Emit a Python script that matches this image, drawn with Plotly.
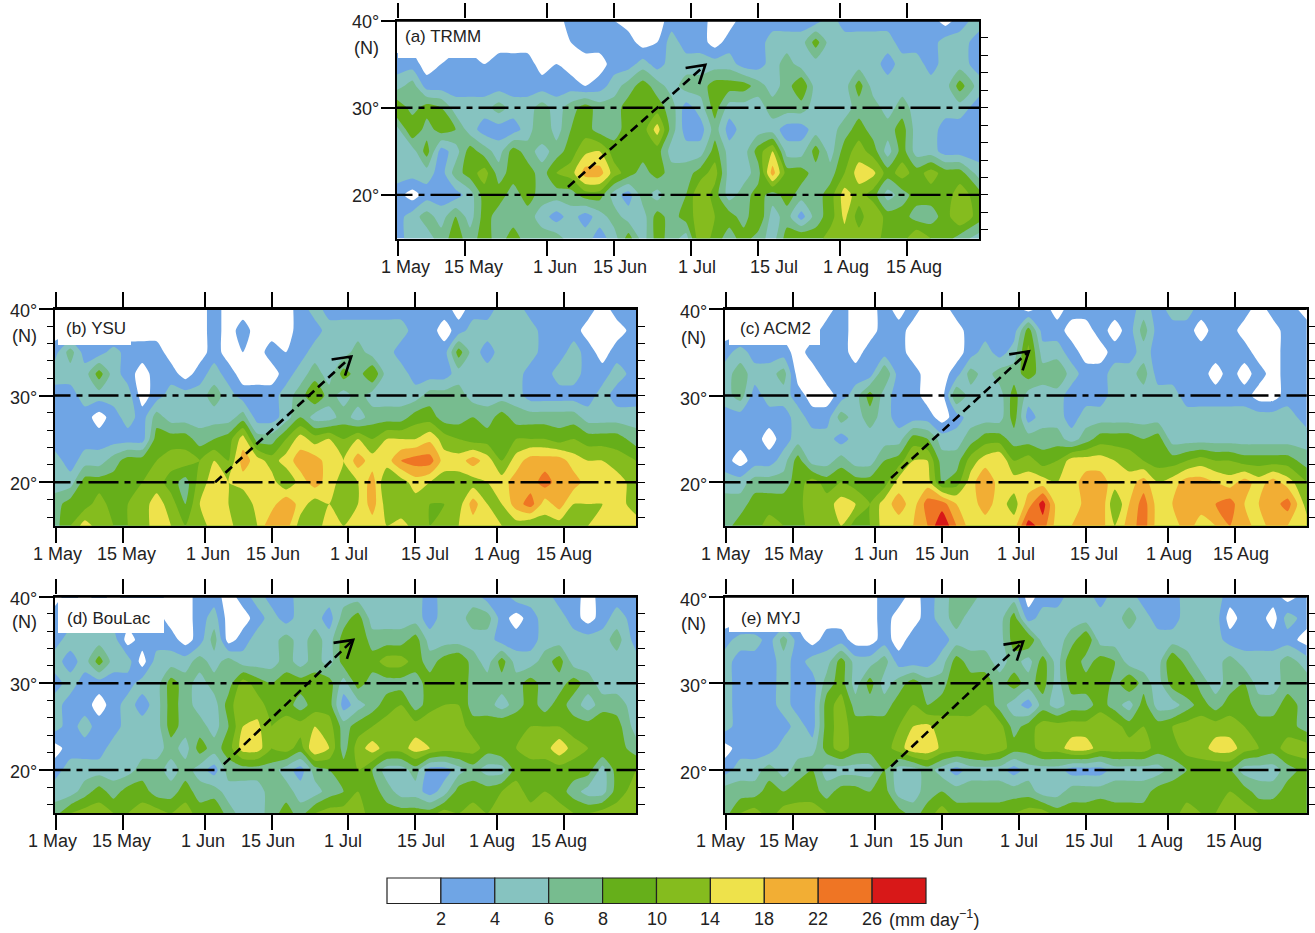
import numpy as np
import plotly.graph_objects as go

W, H = 1315, 933
# Column days (May 1 = 0) and latitudes (north to south) of the rainfall grids below
DAYS = [-0.4] + list(range(3, 120, 3)) + [121]
LATS = [40, 37.5, 35, 32.5, 30, 27.5, 25, 22.5, 20, 17.5, 15]
TICK_DAYS = [0, 14, 31, 45, 61, 75, 92, 106]
TICK_TEXT = ["1 May", "15 May", "1 Jun", "15 Jun", "1 Jul", "15 Jul", "1 Aug", "15 Aug"]
LEVELS = [2, 4, 6, 8, 10, 14, 18, 22, 26]
COLORS = ["#FFFFFF", "#6FA5E5", "#86C3C0", "#77BC8F", "#66AF1A", "#85BC1E",
          "#EEE24B", "#F2AE34", "#EF7524", "#D81818"]

TRMM = [
 [1,1,1,1,1, 1,1,1,1,1, 1,1,3,3,3, 2,1,1,1,3, 3,3,1,1,3, 2,3,3,3,3, 5,3,3,3,3, 2,3,3,1,3, 5],
 [1,1,1,1,1, 1,1,1,1,1, 1,1,2,3,3, 3,3,1,2,5, 3,3,1,3,3, 3,5,5,5,9, 5,5,5,5,5, 3,3,3,5,5, 3],
 [3,3,1,2,3, 3,2,3,3,3, 1,2,1,1,1, 3,3,5,3,5, 5,5,5,5,3, 3,5,7,5,5, 5,5,5,5,3, 5,5,3,5,5, 3],
 [5,7,3,3,3, 3,3,3,3,3, 3,3,3,2,3, 5,7,9,7,5, 7,7,9,9,9, 7,5,7,10,5, 5,5,9,5,5, 5,5,5,5,9, 5],
 [10,7,9,8,5, 5,5,7,5,5, 7,5,7,9,7, 7,9,9,9,7, 3,5,9,5,5, 5,7,7,7,5, 5,5,7,7,5, 7,5,5,5,5, 3],
 [5,10,7,9,8, 5,3,3,3,5, 8,5,8,9,7, 7,9,9,16,7, 3,3,7,3,5, 5,5,3,3,5, 5,7,9,7,7, 9,5,5,3,3, 3],
 [5,5,9,3,5, 9,7,5,9,7, 5,7,9,13,14, 9,8,9,9,5, 5,5,9,5,5, 9,14,5,5,9, 5,9,12,9,5, 9,5,5,3,3, 3],
 [5,5,5,3,7, 9,12,7,9,9, 7,10,12,20,20, 12,9,7,9,7, 7,9,12,5,5, 7,20,9,9,7, 7,10,16,15,9, 12,9,12,9,9, 5],
 [3,1,3,3,3, 5,9,9,7,9, 7,7,7,9,9, 5,3,7,5,8, 8,14,9,5,7, 9,7,9,7,7, 9,16,12,9,5, 7,9,9,9,12, 9],
 [3,5,7,5,8, 5,9,7,7,7, 5,3,5,3,5, 7,5,5,9,7, 9,12,10,9,7, 10,5,7,3,7, 9,15,9,14,9, 9,7,7,9,14, 9],
 [3,5,5,7,9, 7,9,7,9,7, 7,7,5,5,3, 5,9,5,9,7, 5,14,9,7,9, 7,5,9,10,9, 12,12,12,12,9, 9,14,10,9,7, 5],
]
YSU = [
 [1,1,1,1,1, 1,1,1,1,1, 1,3,1,1,1, 1,1,3,5,3, 3,3,3,3,3, 3,3,3,1,3, 3,5,5,3,3, 3,3,3,1,3, 3],
 [1,1,1,1,1, 1,1,1,1,1, 1,3,1,3,1, 1,1,3,3,5, 5,5,5,5,5, 3,3,1,3,5, 5,5,5,5,3, 3,3,1,1,1, 3],
 [3,7,3,3,5, 3,3,3,1,1, 1,3,1,2,1, 3,2,3,5,5, 5,7,5,5,3, 2,3,3,9,5, 3,5,5,5,3, 3,5,3,1,3, 3],
 [5,5,5,9,5, 3,1,3,3,1, 3,5,3,1,1, 1,3,5,7,5, 9,7,10,5,5, 3,3,3,5,5, 5,5,5,3,3, 5,5,3,3,5, 3],
 [3,3,5,5,5, 5,1,3,5,5, 5,7,5,3,3, 3,5,7,10,7, 5,7,5,5,5, 5,7,7,7,5, 5,5,5,3,3, 3,3,3,5,3, 3],
 [3,3,3,1,3, 5,3,7,5,5, 5,5,5,7,3, 3,5,8,5,5, 7,5,7,7,7, 9,9,7,7,8, 7,9,7,7,7, 7,7,5,5,5, 5],
 [3,3,3,3,3, 3,3,9,9,9, 7,8,9,16,7, 7,10,16,12,14, 10,14,10,14,14, 14,17,12,10,9, 9,9,10,10,10, 9,10,9,9,9, 7],
 [5,3,5,5,7, 9,9,10,12,12, 10,14,10,20,16, 12,16,20,20,16, 14,20,16,16,22, 24,24,16,16,20, 16,10,16,20,20, 20,16,14,14,12, 10],
 [5,5,9,9,9, 10,10,12,9,7, 12,16,14,16,14, 16,10,16,20,16, 12,14,20,10,12, 16,14,12,12,12, 14,16,20,20,24, 20,20,16,16,16, 12],
 [7,9,9,12,9, 10,12,16,12,8, 14,18,14,10,16, 16,22,16,12,14, 14,14,20,12,10, 12,10,10,12,20, 14,14,20,24,16, 20,14,14,14,16, 12],
 [7,10,16,12,10, 10,12,16,14,10, 12,16,16,10,14, 22,20,12,12,16, 14,16,16,14,16, 12,10,12,14,16, 16,14,12,10,12, 12,12,14,16,16, 16],
]
ACM2 = [
 [1,1,1,1,1, 1,1,1,3,1, 1,3,1,3,1, 1,3,3,3,3, 3,1,3,1,3, 3,3,3,3,5, 3,5,5,3,3, 3,3,1,3,3, 1],
 [1,1,1,1,1, 1,1,3,3,1, 1,3,3,1,1, 1,1,3,3,3, 3,9,3,3,1, 1,3,1,3,7, 3,3,3,1,3, 3,1,1,1,3, 3],
 [3,5,3,3,3, 1,3,3,3,1, 3,3,3,1,1, 1,1,3,5,3, 5,11,5,5,3, 1,1,3,3,5, 3,3,3,3,3, 3,3,1,1,3, 3],
 [5,7,5,5,7, 1,1,3,3,3, 3,8,3,3,1, 1,3,7,5,7, 7,9,7,8,5, 3,3,5,5,7, 3,3,3,3,1, 3,1,3,1,3, 3],
 [5,7,3,5,5, 3,1,1,3,5, 9,5,3,3,1, 1,8,5,5,5, 9,5,5,5,3, 3,3,5,5,5, 5,5,3,3,3, 3,3,1,1,3, 3],
 [3,3,3,3,3, 5,3,3,7,5, 7,5,3,3,3, 1,3,5,5,5, 9,3,5,5,3, 5,5,5,5,5, 5,5,5,5,5, 5,5,5,5,5, 3],
 [3,3,3,1,3, 5,5,5,3,5, 5,5,5,9,8, 5,5,7,9,9, 7,7,7,7,5, 7,9,9,9,8, 9,5,5,5,5, 5,5,5,5,5, 5],
 [3,1,3,3,5, 9,5,5,7,5, 5,8,9,14,14, 7,7,12,16,18, 10,12,9,10,16, 16,16,14,12,10, 9,9,10,12,10, 10,9,9,9,9, 7],
 [5,5,7,7,7, 9,12,9,10,9, 9,9,16,16,16, 8,9,16,22,16, 16,16,16,14,16, 20,20,16,16,20, 14,16,20,20,18, 16,20,16,20,16, 10],
 [7,7,9,9,9, 9,14,12,16,14, 10,16,20,16,24, 24,18,16,20,16, 12,20,28,16,14, 20,22,10,18,24, 16,18,20,20,22, 24,18,18,20,24, 12],
 [7,9,9,12,10, 9,12,10,14,9, 10,16,16,18,22, 30,22,16,16,16, 16,28,24,16,18, 20,20,14,20,24, 16,16,20,16,18, 22,20,16,20,18, 16],
]
BOULAC = [
 [1,3,1,3,1, 3,3,3,1,1, 3,3,1,3,5, 3,3,5,5,5, 5,5,5,5,5, 5,3,5,5,5, 3,3,5,5,5, 3,3,1,3,3, 3],
 [3,3,3,3,3, 3,3,3,1,1, 3,5,1,1,3, 5,3,5,5,3, 7,9,5,5,5, 5,3,5,5,7, 7,3,1,3,5, 5,3,1,3,5, 3],
 [3,5,5,5,5, 1,3,3,3,1, 3,7,1,3,5, 5,7,5,7,5, 9,10,7,7,7, 9,5,5,5,5, 5,3,3,3,5, 5,5,5,5,7, 3],
 [5,3,5,9,5, 5,1,5,5,5, 7,5,7,5,5, 5,7,5,7,5, 9,9,9,12,12, 9,7,9,10,7, 5,9,5,5,7, 9,5,5,5,5, 5],
 [3,5,3,3,3, 3,5,5,9,7, 5,7,7,12,9, 8,9,9,9,9, 5,9,7,7,7, 7,9,9,10,7, 7,7,7,9,7, 7,9,7,5,5, 5],
 [5,3,3,1,3, 5,3,5,9,7, 5,5,9,14,12, 9,9,7,9,9, 3,5,7,9,10, 7,9,10,10,7, 7,5,7,9,7, 9,7,5,7,7, 5],
 [5,3,5,3,3, 5,5,5,9,7, 7,5,8,14,15, 10,12,12,14,12, 7,9,10,12,12, 12,14,12,12,9, 9,10,10,10,10, 10,9,9,10,9, 5],
 [1,3,3,3,5, 5,5,5,7,5, 9,7,9,16,16, 10,12,9,18,14, 7,12,16,12,12, 16,14,12,12,12, 9,10,10,12,12, 17,12,10,10,9, 7],
 [3,5,5,5,5, 5,7,7,5,7, 5,3,7,7,7, 7,5,3,7,8, 9,10,8,5,5, 7,3,3,5,7, 5,5,9,9,9, 9,9,9,5,9, 10],
 [5,5,7,9,7, 9,9,7,7,9, 7,7,5,5,5, 7,7,5,5,7, 8,10,9,7,5, 5,3,5,9,9, 9,10,12,9,10, 9,7,5,5,9, 12],
 [7,10,12,12,10, 10,12,12,10,12, 9,10,7,5,5, 7,9,7,10,12, 12,12,9,9,9, 9,9,12,10,12, 10,12,12,12,12, 12,10,10,12,12, 12],
]
MYJ = [
 [1,1,1,1,1, 1,1,1,1,1, 1,3,3,1,3, 5,7,7,5,5, 5,1,3,3,5, 5,3,5,5,3, 3,3,5,5,5, 3,3,3,3,1, 3],
 [1,1,1,1,1, 1,1,1,1,1, 1,3,1,1,3, 5,7,5,5,5, 9,3,5,5,5, 5,5,5,7,5, 3,3,5,5,5, 1,3,3,1,5, 3],
 [3,5,5,3,7, 3,1,3,3,1, 1,3,1,3,3, 3,5,5,5,5, 9,10,5,5,7, 10,5,5,5,5, 5,5,5,5,5, 3,3,3,3,3, 1],
 [5,3,3,3,5, 3,5,5,9,5, 5,7,3,3,3, 5,9,7,7,5, 7,5,9,5,10, 7,9,8,5,5, 5,10,7,5,5, 7,5,5,5,7, 5],
 [5,3,3,3,5, 3,3,7,9,5, 9,5,7,9,7, 7,10,9,9,7, 9,7,9,5,9, 9,10,7,10,7, 5,9,10,7,5, 7,8,5,5,7, 7],
 [5,3,3,3,5, 3,3,9,12,7, 7,7,9,10,8, 9,9,9,10,7, 5,3,7,5,7, 7,9,7,5,9, 5,5,7,9,7, 9,9,7,7,9, 7],
 [5,3,3,3,3, 5,3,9,12,9, 9,9,10,14,15, 12,12,12,14,12, 7,9,12,12,12, 12,14,12,9,10, 9,10,12,12,12, 12,10,9,9,9, 7],
 [1,3,3,3,5, 5,5,9,12,9, 9,9,12,17,17, 13,12,12,14,12, 9,9,12,12,16, 16,12,12,12,12, 9,9,12,12,16, 16,12,10,9,12, 12],
 [3,5,5,7,5, 7,8,5,5,5, 5,8,5,5,7, 5,3,5,5,5, 3,5,5,5,3, 3,3,5,5,5, 5,7,8,9,8, 8,5,5,5,7, 9],
 [7,7,7,9,8, 9,9,7,9,9, 8,9,5,5,7, 8,7,7,7,7, 7,7,5,5,7, 7,7,7,7,7, 9,9,9,10,9, 10,9,7,7,9, 9],
 [7,10,12,9,12, 12,12,10,9,10, 9,9,9,7,9, 12,9,9,9,9, 10,12,12,9,9, 9,10,9,9,9, 10,9,12,10,10, 12,12,10,10,9, 9],
]

# Arrow tail and tip (day, latitude)
ARROW_TAILS = {"a": (35.4, 20.9), "b": (33.2, 20.0), "c": (34.4, 20.5), "d": (35.0, 20.65), "e": (34.4, 20.4)}
ARROW_TIPS = {"a": (64.0, 34.9), "b": (61.6, 34.5), "c": (63.1, 35.1), "d": (62.0, 35.0), "e": (61.9, 34.8)}

# --- layout constants (pixels) ---
PANELS = [
    dict(key="a", name="(a) TRMM", z=TRMM, box=(397, 979, 20.5, 238.5), lab=(403, 36.7), lbox=(398, 490, 22, 58),
         shifts=[7.5, 8, 8.5, 6, 6, 16, 6, 7], nxy=(366.5, 48), left_minor=False, ylshift=-1.5),
    dict(key="b", name="(b) YSU", z=YSU, box=(55, 636, 308.8, 525.7), lab=(64.3, 328), lbox=(58, 131, 310, 345),
         shifts=[2, 3, 3.6, 1, 1, 10, 0, 0], nxy=(24, 336), left_minor=True, ylshift=-2),
    dict(key="c", name="(c) ACM2", z=ACM2, box=(725, 1306.8, 308.8, 525.7), lab=(738.4, 328), lbox=(729, 820, 310, 345),
         shifts=[0, 0, 1, 0, -2.5, 8, 1, 6], nxy=(693, 338), left_minor=False, ylshift=-3),
    dict(key="d", name="(d) BouLac", z=BOULAC, box=(55, 636, 596.5, 813.3), lab=(65, 618), lbox=(58, 164, 598, 633),
         shifts=[-3.3, -2, -1.2, -3.7, -5, 6, -4.5, -5], nxy=(24, 622), left_minor=True, ylshift=-2),
    dict(key="e", name="(e) MYJ", z=MYJ, box=(725, 1306.8, 596.5, 813.3), lab=(739, 618), lbox=(729, 802, 598, 632),
         shifts=[-5, -5, -3.7, -6, 0, 3, -8, -0.4], nxy=(693, 624), left_minor=False, ylshift=-3),
]
XR = [-0.2, 121]
TEXT = "#222222"
FONT = "Liberation Sans, Arial, sans-serif"
BAND_EDGES = [0] + LEVELS + [30]


def px(x):
    return x / W


def py(y):
    return 1 - y / H


for p in PANELS:
    if len(p["z"]) != len(LATS):
        raise ValueError(p["key"])
    for r, row in enumerate(p["z"]):
        if len(row) != len(DAYS):
            raise ValueError(f"{p['key']} row {r}: {len(row)}")

fig = go.Figure()
layout = {}
shapes = []
annos = []
colorscale = [[i / 9, c] for i, c in enumerate(COLORS)]

for i, p in enumerate(PANELS, start=1):
    x0, x1, y0, y1 = p["box"]
    xn, yn, yr = f"x{i}", f"y{i}", f"y{i + 5}"
    xa, ya, ra = f"xaxis{i}", f"yaxis{i}", f"yaxis{i + 5}"
    layout[xa] = dict(domain=[px(x0), px(x1)], range=XR, anchor=yn, tickmode="array", tickvals=TICK_DAYS,
                      showticklabels=False, ticks="outside", ticklen=15, tickwidth=2.2, tickcolor="black",
                      showline=True, linewidth=2.2, linecolor="black", mirror="ticks", showgrid=False, zeroline=False)
    minor = dict(ticks="outside", tickvals=list(range(16, 40, 2)), ticklen=6, tickwidth=1.3, tickcolor="black",
                 showgrid=False) if p["left_minor"] else None
    layout[ya] = dict(domain=[py(y1), py(y0)], range=[15, 40], anchor=xn, tickmode="array", tickvals=[20, 30, 40],
                      showticklabels=False, ticks="outside", ticklen=14, tickwidth=2.2, tickcolor="black",
                      showline=True, linewidth=2.2, linecolor="black", mirror=True, showgrid=False, zeroline=False)
    if minor:
        layout[ya]["minor"] = minor
    layout[ra] = dict(domain=[py(y1), py(y0)], range=[15, 40], anchor=xn, overlaying=yn, side="right",
                      tickmode="array", tickvals=list(range(16, 40, 2)), showticklabels=False, ticks="outside",
                      ticklen=8, tickwidth=1.3, tickcolor="black", showline=False, showgrid=False, zeroline=False)

    zi = np.interp(np.array(p["z"], dtype=float), BAND_EDGES, np.arange(len(BAND_EDGES)))
    fig.add_trace(go.Contour(x=DAYS, y=LATS[::-1], z=zi[::-1], xaxis=xn, yaxis=yn, showscale=False, hoverinfo="skip",
                             autocontour=False, contours=dict(start=1, end=9, size=1, coloring="fill"),
                             colorscale=colorscale, line=dict(width=0, smoothing=0.6)))
    fig.add_trace(go.Scatter(x=[None], y=[None], xaxis=xn, yaxis=yr, mode="lines", hoverinfo="skip", showlegend=False))

    # dash-dot reference latitudes and top rule extending past the frame
    day_pad = 14.5 / ((x1 - x0) / (XR[1] - XR[0]))
    for lat in (30, 20):
        fig.add_trace(go.Scatter(x=[XR[0] - day_pad, XR[1] + day_pad], y=[lat, lat], xaxis=xn, yaxis=yn, mode="lines",
                                 cliponaxis=False, hoverinfo="skip", showlegend=False,
                                 line=dict(color="black", width=2.4, dash="30px,6px,6px,6px")))
    fig.add_trace(go.Scatter(x=[XR[0] - day_pad, XR[1] + day_pad], y=[40, 40], xaxis=xn, yaxis=yn, mode="lines",
                             cliponaxis=False, hoverinfo="skip", showlegend=False,
                             line=dict(color="black", width=2.4)))

    # arrow
    tail, tip = ARROW_TAILS[p["key"]], ARROW_TIPS[p["key"]]
    fig.add_trace(go.Scatter(x=[tail[0], tip[0]], y=[tail[1], tip[1]], xaxis=xn, yaxis=yn, mode="lines",
                             hoverinfo="skip", showlegend=False,
                             line=dict(color="black", width=2.6, dash="9px,5px")))
    fig.add_trace(go.Scatter(x=[tip[0] - 4.1, tip[0], tip[0] - 1.3], y=[tip[1] - 0.35, tip[1], tip[1] - 2.2],
                             xaxis=xn, yaxis=yn, mode="lines", hoverinfo="skip", showlegend=False,
                             line=dict(color="black", width=2.6)))

    # white label box
    lx0, lx1, ly0, ly1 = p["lbox"]
    shapes.append(dict(type="rect", xref="paper", yref="paper", x0=px(lx0), x1=px(lx1), y0=py(ly1), y1=py(ly0),
                       fillcolor="white", line=dict(width=0), layer="above"))
    annos.append(dict(xref="paper", yref="paper", x=px(p["lab"][0]), y=py(p["lab"][1]), text=p["name"],
                      xanchor="left", yanchor="middle", showarrow=False, font=dict(size=17, color=TEXT, family=FONT)))

    # x tick labels
    for d, t, s in zip(TICK_DAYS, TICK_TEXT, p["shifts"]):
        annos.append(dict(xref=xn, yref=yn, x=d, y=15, text=t, xshift=s, yshift=-28, xanchor="center",
                          yanchor="middle", showarrow=False, font=dict(size=18, color=TEXT, family=FONT)))
    # y tick labels
    for lat in (40, 30, 20):
        annos.append(dict(xref=xn, yref=yn, x=XR[0], y=lat, text=f"{lat}°", xshift=-16, yshift=p["ylshift"],
                          xanchor="right", yanchor="middle", showarrow=False,
                          font=dict(size=18, color=TEXT, family=FONT)))
    annos.append(dict(xref="paper", yref="paper", x=px(p["nxy"][0]), y=py(p["nxy"][1]), text="(N)", xanchor="center",
                      yanchor="middle", showarrow=False, font=dict(size=18, color=TEXT, family=FONT)))

# colour key
KEY_X0, KEY_W, KEY_Y0, KEY_Y1 = 387, 53.9, 878, 903.5
for i, c in enumerate(COLORS):
    shapes.append(dict(type="rect", xref="paper", yref="paper", x0=px(KEY_X0 + i * KEY_W), x1=px(KEY_X0 + (i + 1) * KEY_W),
                       y0=py(KEY_Y1), y1=py(KEY_Y0), fillcolor=c, line=dict(color="#222222", width=1.2), layer="above"))
for i, lv in enumerate(LEVELS):
    annos.append(dict(xref="paper", yref="paper", x=px(KEY_X0 + (i + 1) * KEY_W), y=py(918.5), text=str(lv),
                      xanchor="center", yanchor="middle", showarrow=False, font=dict(size=18, color=TEXT, family=FONT)))
annos.append(dict(xref="paper", yref="paper", x=px(887), y=py(918.5), text="(mm day<sup>−1</sup>)", xanchor="left",
                  yanchor="middle", showarrow=False, font=dict(size=18, color=TEXT, family=FONT)))

fig.update_layout(width=W, height=H, margin=dict(l=0, r=0, t=0, b=0), paper_bgcolor="white", plot_bgcolor="white",
                  showlegend=False, shapes=shapes, annotations=annos, **layout)
fig.write_html("out.html", config={"displayModeBar": False}, post_script="document.body.style.margin='0';")
